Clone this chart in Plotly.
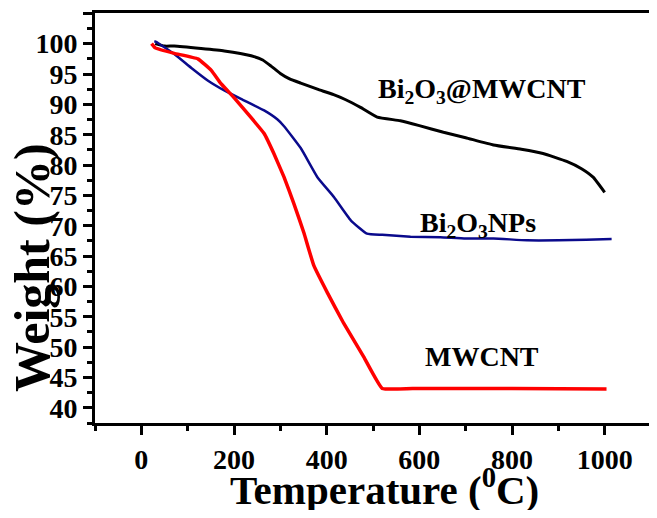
import plotly.graph_objects as go

# Bi2O3@MWCNT (black)
comp_x = [30, 50, 71, 129, 179, 237, 262, 280, 300, 320, 344, 380, 415, 440, 473, 509, 559, 600, 652, 700, 760, 820, 867, 918, 950, 975, 1000]
comp_y = [100, 99.6, 99.6, 99.2, 98.8, 98, 97.3, 96.3, 95.1, 94.2, 93.5, 92.5, 91.6, 90.8, 89.5, 87.9, 87.3, 86.5, 85.4, 84.5, 83.3, 82.6, 81.9, 80.6, 79.4, 78, 75.5]

# Bi2O3 NPs (blue)
nps_x = [28, 32, 71, 108, 144, 179, 215, 265, 294, 308, 344, 380, 416, 452, 487, 520, 581, 645, 700, 760, 832, 900, 960, 1015]
nps_y = [100.4, 100.3, 98.3, 96, 93.9, 92.3, 90.9, 89, 87.5, 86.4, 82.8, 78, 74.7, 70.9, 68.7, 68.5, 68.2, 68.1, 67.9, 67.9, 67.6, 67.6, 67.7, 67.8]

# MWCNT (red)
cnt_x = [22, 30, 71, 122, 151, 172, 200, 237, 265, 286, 308, 329, 351, 372, 402, 437, 480, 520, 600, 800, 1004]
cnt_y = [100, 99.3, 98.4, 97.5, 95.6, 93.4, 91.1, 87.8, 85.2, 81.9, 78, 73.7, 68.8, 63.5, 58.9, 53.9, 48.4, 43.2, 43.2, 43.2, 43.1]

x_ticks = [0, 200, 400, 600, 800, 1000]
y_ticks = list(range(40, 106, 5))

labels = [
    ("Bi<sub>2</sub>O<sub>3</sub>@MWCNT", 735, 92.3),
    ("Bi<sub>2</sub>O<sub>3</sub>NPs", 727, 70.2),
    ("MWCNT", 735, 48.4),
]

FONT = "Liberation Serif"

fig = go.Figure()
fig.add_trace(go.Scatter(x=comp_x, y=comp_y, mode="lines",
                         line=dict(color="black", width=3, shape="spline", smoothing=0.4)))
fig.add_trace(go.Scatter(x=nps_x, y=nps_y, mode="lines",
                         line=dict(color="#0a0a8c", width=2.5, shape="spline", smoothing=0.4)))
fig.add_trace(go.Scatter(x=cnt_x, y=cnt_y, mode="lines",
                         line=dict(color="#ff0000", width=3.5, shape="spline", smoothing=0.3)))

for text, x, y in labels:
    fig.add_annotation(x=x, y=y, text=text, showarrow=False,
                       font=dict(family=FONT, size=28, color="black", weight="bold"))

# axis titles as paper annotations for exact placement
fig.add_annotation(xref="paper", yref="paper", x=0.52, y=0, yanchor="middle", yshift=-64,
                   text="Temperature (<sup>0</sup>C)", showarrow=False,
                   font=dict(family=FONT, size=41, color="black", weight="bold"))
fig.add_annotation(xref="paper", yref="paper", x=0, y=0.378, xanchor="center", xshift=-63,
                   text="Weight (%)", textangle=-90, showarrow=False,
                   font=dict(family=FONT, size=50, color="black", weight="bold"))

# page body has an 8px margin: figure is sized so that it fits the 657x518 window
fig.update_layout(
    width=649, height=502,
    margin=dict(l=87, r=6, t=5, b=87, autoexpand=False),
    paper_bgcolor="white", plot_bgcolor="white",
    showlegend=False,
    font=dict(family=FONT, color="black"),
)
fig.update_xaxes(
    range=[-100, 1100], tickvals=x_ticks, automargin=False,
    ticks="outside", ticklen=9, tickwidth=3, tickcolor="black",
    minor=dict(dtick=100, tick0=0, ticks="outside", ticklen=5, tickwidth=3, tickcolor="black"),
    showline=True, linewidth=3, linecolor="black", mirror=True,
    showgrid=False, zeroline=False,
    tickfont=dict(family=FONT, size=28, weight="bold"),
)
fig.update_yaxes(
    range=[37.5, 105.05], tickvals=y_ticks, automargin=False,
    ticks="outside", ticklen=9, tickwidth=3, tickcolor="black",
    minor=dict(dtick=2.5, tick0=0, ticks="outside", ticklen=5, tickwidth=3, tickcolor="black"),
    showline=True, linewidth=3, linecolor="black", mirror=True,
    showgrid=False, zeroline=False,
    tickfont=dict(family=FONT, size=28, weight="bold"),
)

fig.write_html("out.html")
